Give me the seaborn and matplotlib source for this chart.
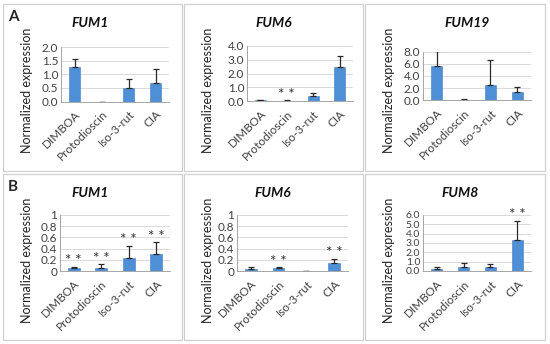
import numpy as np
import pandas as pd
import matplotlib
matplotlib.use("Agg")
import matplotlib.pyplot as plt
from matplotlib.patches import Rectangle
import seaborn as sns

# data
categories = ["DIMBOA", "Protodioscin", "Iso-3-rut", "CIA"]

a_fum1 = [1.28, 0.0, 0.50, 0.68]
a_fum1_err = [0.27, 0.0, 0.33, 0.53]
a_fum1_sig = [False, False, False, False]

a_fum6 = [0.05, 0.03, 0.33, 2.45]
a_fum6_err = [0.02, 0.02, 0.25, 0.80]
a_fum6_sig = [False, True, False, False]

a_fum19 = [5.6, 0.08, 2.5, 1.4]
a_fum19_err = [2.5, 0.05, 4.2, 0.75]
a_fum19_sig = [False, False, False, False]

b_fum1 = [0.05, 0.06, 0.23, 0.31]
b_fum1_err = [0.03, 0.06, 0.22, 0.20]
b_fum1_sig = [True, True, True, True]

b_fum6 = [0.04, 0.05, 0.0, 0.14]
b_fum6_err = [0.03, 0.02, 0.0, 0.08]
b_fum6_sig = [False, True, False, True]

b_fum8 = [0.25, 0.40, 0.40, 3.30]
b_fum8_err = [0.15, 0.42, 0.35, 2.10]
b_fum8_sig = [False, False, False, True]

sns.set_style("white")
plt.rcParams["font.family"] = ["Lato", "DejaVu Sans"]

W, H = 550, 344
fig = plt.figure(figsize=(W / 100, H / 100), dpi=100)

bar_color = "#4f8fd6"
grid_color = "#d9d9d9"
text_color = "#404040"


def px_axes(left, right, top, bottom):
    return fig.add_axes([left / W, 1 - bottom / H, (right - left) / W, (bottom - top) / H])


def panel(box, area, title, title_x, vals, errs, sig, ymax, step, labels, tick_fs=8.5):
    # light grey frame around each chart
    x0, x1, y0, y1 = box
    fig.patches.append(Rectangle((x0 / W, 1 - y1 / H), (x1 - x0) / W, (y1 - y0) / H,
                                 transform=fig.transFigure, fill=False,
                                 edgecolor="#d0d0d0", linewidth=0.9))
    ax = px_axes(*area)
    df = pd.DataFrame({"cat": categories, "val": vals})
    sns.barplot(data=df, x="cat", y="val", ax=ax, color=bar_color, width=0.42,
                saturation=1, edgecolor="#3d7cc4", linewidth=0.4)
    ax.errorbar(np.arange(4), vals, yerr=[np.zeros(4), errs], fmt="none",
                ecolor="#2a2a2a", elinewidth=0.9, capsize=2.5, capthick=0.9)
    for i in range(4):
        if sig[i]:
            ax.text(i, vals[i] + errs[i] - ymax * 0.03, "* *", ha="center", va="bottom",
                    fontsize=11, color="#333333")
    ax.set_xlim(-0.5, 3.5)
    ax.set_ylim(0, ymax)
    ticks = np.arange(0, ymax + step / 2, step)
    ax.set_yticks(ticks)
    ax.set_yticklabels(labels, fontsize=tick_fs, color=text_color)
    ax.set_xticks(range(4))
    ax.set_xticklabels(categories, rotation=45, ha="right", rotation_mode="anchor",
                       fontsize=8.5, color=text_color)
    ax.set_xticks([-0.5, 0.5, 1.5, 2.5, 3.5], minor=True)
    ax.tick_params(axis="x", which="major", length=0, pad=5)
    ax.tick_params(axis="x", which="minor", length=3, width=0.7, color="#a6a6a6")
    ax.tick_params(axis="y", length=0, pad=2)
    ax.set_xlabel("")
    ax.set_ylabel("")
    ax.yaxis.grid(True, color=grid_color, linewidth=0.7)
    ax.set_axisbelow(True)
    for s in ["top", "right"]:
        ax.spines[s].set_visible(False)
    for s in ["left", "bottom"]:
        ax.spines[s].set_color("#a6a6a6")
        ax.spines[s].set_linewidth(0.7)
    fig.text(title_x / W, 1 - (y0 + 19) / H, title, ha="center", va="center",
             fontsize=10, fontweight="bold", fontstyle="italic", color="#111111")
    fig.text((x0 + 24) / W, 1 - (y0 + 86) / H, "Normalized expression", rotation=90,
             ha="center", va="center", fontsize=9, color="#222222")
    return ax


fmt1 = lambda ymax, step: ["%.1f" % t for t in np.arange(0, ymax + step / 2, step)]

panel((3, 182, 4, 171), (61, 169, 47, 101.5), "FUM1", 90,
      a_fum1, a_fum1_err, a_fum1_sig, 2.0, 0.5, fmt1(2.0, 0.5))
panel((184, 363, 4, 171), (247, 353, 46, 101), "FUM6", 274,
      a_fum6, a_fum6_err, a_fum6_sig, 4.0, 1.0, fmt1(4.0, 1.0))
panel((365, 545, 4, 171), (423, 531, 52, 100), "FUM19", 467,
      a_fum19, a_fum19_err, a_fum19_sig, 8.0, 2.0, fmt1(8.0, 2.0))
panel((3, 182, 174, 340), (60, 170, 215, 271), "FUM1", 90,
      b_fum1, b_fum1_err, b_fum1_sig, 1.0, 0.2, ["0", "0.2", "0.4", "0.6", "0.8", "1"])
panel((184, 363, 174, 340), (237, 348, 215, 271), "FUM6", 273,
      b_fum6, b_fum6_err, b_fum6_sig, 1.0, 0.2, ["0", "0.2", "0.4", "0.6", "0.8", "1"])
panel((365, 545, 174, 340), (423, 531, 215, 271), "FUM8", 460,
      b_fum8, b_fum8_err, b_fum8_sig, 6.0, 1.0, fmt1(6.0, 1.0), tick_fs=7.5)

fig.text(13 / W, 1 - 17 / H, "A", ha="center", va="center", fontsize=11, fontweight="bold")
fig.text(13 / W, 1 - 187 / H, "B", ha="center", va="center", fontsize=11, fontweight="bold")

fig.savefig("out.png", dpi=100)
